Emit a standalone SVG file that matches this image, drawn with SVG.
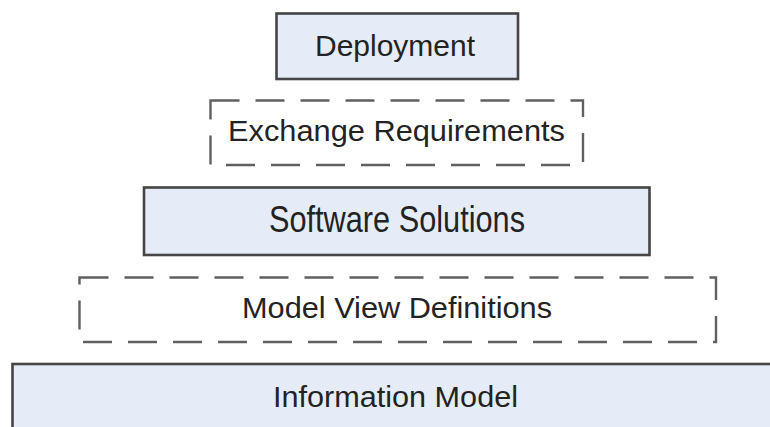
<svg xmlns="http://www.w3.org/2000/svg" width="770" height="427" viewBox="0 0 770 427">
<style>
.solid{fill:#e6ecf7;stroke:#454545;stroke-width:2.6}
.dash{fill:#ffffff;stroke:#606060;stroke-width:2.4;stroke-dasharray:29 16}
.t{font-family:"Liberation Sans",Arial,sans-serif;font-size:30px;fill:#232323;text-anchor:middle}
</style>
<rect width="770" height="427" fill="#ffffff"/>
<g id="deployment"><rect class="solid" x="276.5" y="13.5" width="241.5" height="65.5"/><text class="t" x="395" y="56" textLength="160" lengthAdjust="spacingAndGlyphs">Deployment</text></g>
<g id="exchange-requirements"><rect class="dash" x="210.5" y="100.5" width="372.5" height="64.5"/><text class="t" x="396.5" y="141" textLength="337" lengthAdjust="spacingAndGlyphs">Exchange Requirements</text></g>
<g id="software-solutions"><rect class="solid" x="144" y="187.5" width="505.5" height="67.5"/><text class="t" x="397" y="232" style="font-size:36px" textLength="256" lengthAdjust="spacingAndGlyphs">Software Solutions</text></g>
<g id="model-view-definitions"><rect class="dash" x="79.5" y="277.5" width="636.5" height="64.5"/><text class="t" x="397" y="318" textLength="310" lengthAdjust="spacingAndGlyphs">Model View Definitions</text></g>
<g id="information-model"><rect class="solid" x="12.5" y="364" width="770" height="80"/><text class="t" x="395.5" y="407" textLength="245" lengthAdjust="spacingAndGlyphs">Information Model</text></g>
<g id="connectors"/>
</svg>
